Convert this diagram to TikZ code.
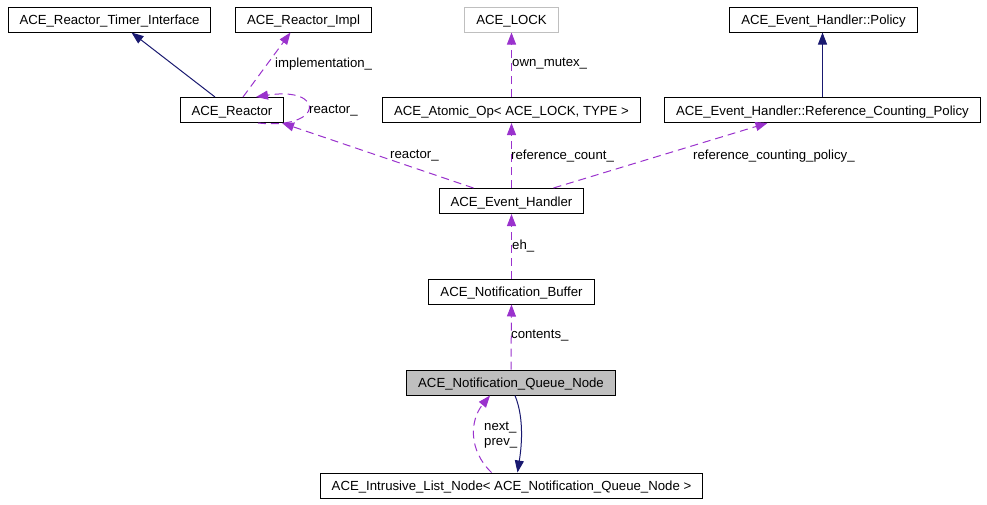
\documentclass[tikz,border=0pt]{standalone}
\usepackage{fontspec}
\setmainfont{Liberation Sans}
\usetikzlibrary{arrows.meta}
\definecolor{edgeblue}{RGB}{25,25,112}
\definecolor{edgepurple}{RGB}{154,50,205}
\definecolor{boxgray}{RGB}{191,191,191}

\begin{document}
\begin{tikzpicture}[x=1pt,y=-1pt,
    font=\fontsize{13.2}{15.5}\selectfont,
    box/.style={draw,minimum height=25pt,inner xsep=11.5pt,inner ysep=0pt,
      text height=11pt,text depth=1pt,line width=1pt},
    inh/.style={edgeblue,line width=1pt,-{Triangle[length=12pt,width=9pt]}},
    ptr/.style={edgepurple,line width=1pt,dash pattern=on 8pt off 5pt,-{Triangle[length=12pt,width=9pt]}},
    lbl/.style={anchor=west,inner sep=0pt}]
  \useasboundingbox (0,0) rectangle (987,504);

  % classes
  \node[box] (timer)  at (109.5,19.5) {ACE\_Reactor\_Timer\_Interface};
  \node[box] (impl)   at (303.5,19.5) {ACE\_Reactor\_Impl};
  \node[box,draw=boxgray] (lock) at (511.5,19.5) {ACE\_LOCK};
  \node[box] (policy) at (823.5,19.5) {ACE\_Event\_Handler::Policy};

  \node[box] (reactor) at (232,110)   {ACE\_Reactor};
  \node[box] (atomic)  at (511.5,110) {ACE\_Atomic\_Op< ACE\_LOCK, TYPE >};
  \node[box] (refpol)  at (822.5,110) {ACE\_Event\_Handler::Reference\_Counting\_Policy};

  \node[box] (evh)    at (511.5,201)   {ACE\_Event\_Handler};
  \node[box] (buffer) at (511.5,291.5) {ACE\_Notification\_Buffer};
  \node[box,fill=boxgray] (qnode) at (511,382.5) {ACE\_Notification\_Queue\_Node};
  \node[box] (ilist)  at (511.5,485.5) {ACE\_Intrusive\_List\_Node< ACE\_Notification\_Queue\_Node >};

  % inheritance
  \draw[inh] ([xshift=-17pt]reactor.north) -- ([xshift=22pt]timer.south);
  \draw[inh] (refpol.north) -- (refpol.north |- policy.south);
  \draw[inh] ([xshift=4pt]qnode.south) .. controls (525,420) and (521,450) .. ([xshift=6pt]ilist.north);

  % members
  \draw[ptr] ([xshift=11pt]reactor.north) -- ([xshift=-13pt]impl.south);
  \node[lbl] (limpl) at (275,64) {implementation\_};
  \draw[ptr] ([xshift=26pt]reactor.south) .. controls (325,130) and (325,86) .. ([xshift=24pt]reactor.north);
  \node[lbl] (lself) at (309,111) {reactor\_};

  \draw[ptr] (atomic.north) -- (lock.south);
  \node[lbl] (lmutex) at (512,64) {own\_mutex\_};

  \draw[ptr] ([xshift=-38pt]evh.north) -- ([xshift=50pt]reactor.south);
  \node[lbl] (lreactor) at (390,156) {reactor\_};
  \draw[ptr] (evh.north) -- (atomic.south);
  \node[lbl] (lcount) at (511,156) {reference\_count\_};
  \draw[ptr] ([xshift=42pt]evh.north) -- ([xshift=-55pt]refpol.south);
  \node[lbl] (lpolicy) at (693,156) {reference\_counting\_policy\_};

  \draw[ptr] (buffer.north) -- (evh.south);
  \node[lbl] (leh) at (512,246) {eh\_};
  \draw[ptr] (qnode.north) -- (buffer.south);
  \node[lbl] (lcont) at (511,336) {contents\_};

  \draw[ptr] ([xshift=-20pt]ilist.north) .. controls (468,450) and (470,420) .. ([xshift=-21pt]qnode.south);
  \node[lbl,align=left] (lnext) at (484,435) {next\_\\prev\_};
\end{tikzpicture}
\end{document}
